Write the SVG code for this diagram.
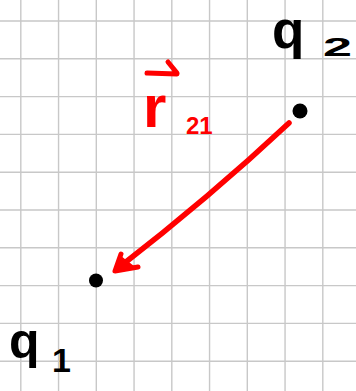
<svg xmlns="http://www.w3.org/2000/svg" width="356" height="391" viewBox="0 0 356 391">
  <style>
    .grid { stroke: #c8c8c8; stroke-width: 1.4; fill: none; }
    .ink { fill: #000; font-family: "Liberation Sans", Arial, sans-serif; }
    .red { fill: #ff0000; font-family: "Liberation Sans", Arial, sans-serif; font-weight: bold; }
    .redline { stroke: #ff0000; fill: none; stroke-linecap: round; stroke-linejoin: round; }
  </style>
  <rect x="0" y="0" width="356" height="391" fill="#ffffff"/>
  <g id="grid">
    <path class="grid" d="M20.8 0V391 M58.55 0V391 M96.3 0V391 M134.05 0V391 M171.8 0V391 M209.55 0V391 M247.3 0V391 M285.05 0V391 M322.8 0V391
      M0 21H356 M0 58.8H356 M0 96.6H356 M0 134.4H356 M0 172.2H356 M0 210H356 M0 247.8H356 M0 285.6H356 M0 323.4H356 M0 361.2H356"/>
  </g>
  <g id="connectors">
    <g id="r21">
      <path class="redline" stroke-width="5.5" d="M289 123 Q 210 197 117 269"/>
      <path class="redline" stroke-width="5" d="M121 254 L115 271 L138 267"/>
      <path d="M121 256 L117 269 L134 266 Z" fill="#ff0000"/>
    </g>
    <g id="r21-label">
      <path class="redline" stroke-width="5" d="M147 73 L177 74 M168 62 L177 73"/>
      <text class="red" x="143" y="127" font-size="60">r</text>
      <text class="red" x="186" y="134" font-size="24">21</text>
    </g>
  </g>
  <g id="q2">
    <circle cx="300" cy="111" r="7.5" fill="#000"/>
    <text class="ink" x="272" y="48" font-size="53" font-weight="bold">q</text>
    <text class="ink" x="323" y="56" font-size="26" font-weight="bold" textLength="29" lengthAdjust="spacingAndGlyphs">2</text>
  </g>
  <g id="q1">
    <circle cx="96" cy="280.5" r="7" fill="#000"/>
    <text class="ink" x="9" y="358" font-size="50" font-weight="bold">q</text>
    <text class="ink" x="52" y="372" font-size="34" font-weight="bold">1</text>
  </g>
</svg>
